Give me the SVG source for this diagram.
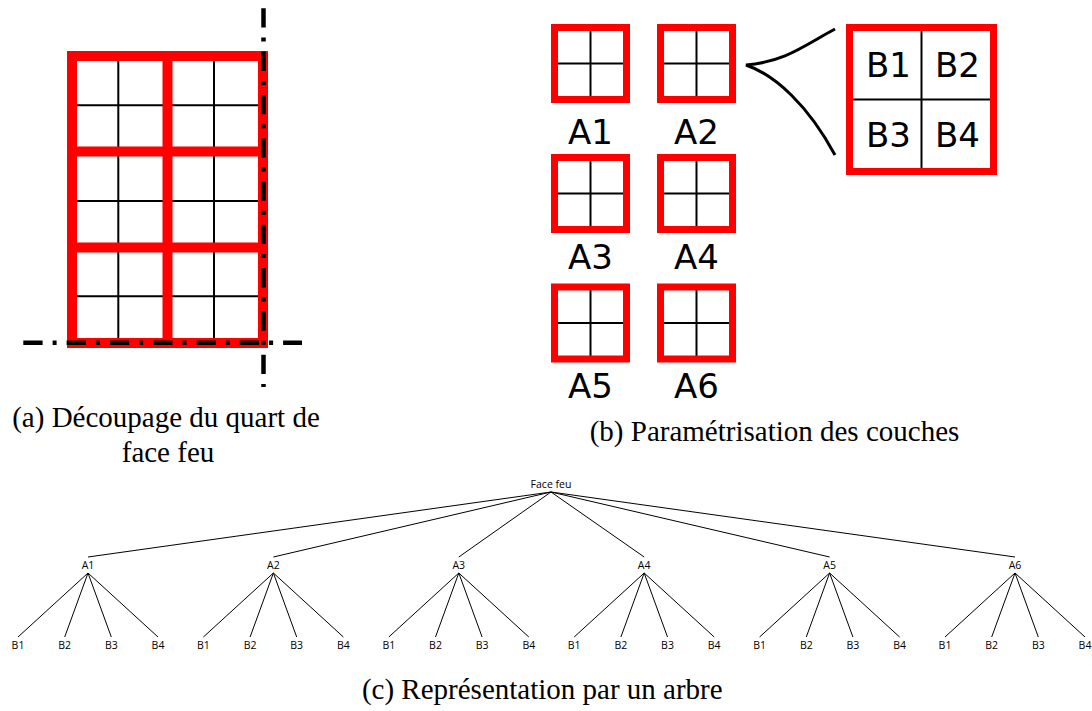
<svg xmlns="http://www.w3.org/2000/svg" width="1092" height="711" viewBox="0 0 1092 711">
<style>
.red{fill:none;stroke:#ff0000}
.thin{fill:none;stroke:#000;stroke-width:2}
.dd{fill:none;stroke:#000;stroke-width:4.5;stroke-dasharray:19.3 10 4 10}
.lab{font-family:"DejaVu Sans",sans-serif;font-size:34px;text-anchor:middle;fill:#000}
.cap{font-family:"Liberation Serif",serif;font-size:29px;text-anchor:middle;fill:#000}
.tn{font-family:"Open Sans","Noto Sans",sans-serif;font-size:10.5px;text-anchor:middle;fill:#000}
.edge{stroke:#000;stroke-width:1;fill:none}
</style>
<rect width="1092" height="711" fill="#fff"/>

<!-- (a) -->
<g id="part-a">
  <g class="thin">
    <line x1="118.3" y1="56" x2="118.3" y2="343"/>
    <line x1="214" y1="56" x2="214" y2="343"/>
    <line x1="72" y1="105.3" x2="263" y2="105.3"/>
    <line x1="72" y1="201" x2="263" y2="201"/>
    <line x1="72" y1="296.3" x2="263" y2="296.3"/>
  </g>
  <g class="red" stroke-width="10">
    <rect x="72" y="56" width="191" height="287"/>
    <line x1="167.5" y1="56" x2="167.5" y2="343"/>
    <line x1="72" y1="151.5" x2="263" y2="151.5"/>
    <line x1="72" y1="247.5" x2="263" y2="247.5"/>
  </g>
  <line class="dd" x1="263.5" y1="8.3" x2="263.5" y2="387"/>
  <line class="dd" x1="23.3" y1="342.7" x2="302" y2="342.7"/>
  <text class="cap" x="166" y="427">(a) Découpage du quart de</text>
  <text class="cap" x="168" y="462">face feu</text>
</g>

<!-- (b) -->
<g id="part-b">
  <g id="boxA1">
    <line class="thin" x1="590.5" y1="27.5" x2="590.5" y2="99.5"/><line class="thin" x1="554.5" y1="63.5" x2="626.5" y2="63.5"/>
    <rect class="red" stroke-width="7" x="554.5" y="27.5" width="72" height="72"/>
    <text class="lab" x="590.5" y="144">A1</text>
  </g>
  <g id="boxA2">
    <line class="thin" x1="696.5" y1="27.5" x2="696.5" y2="99.5"/><line class="thin" x1="660.5" y1="63.5" x2="732.5" y2="63.5"/>
    <rect class="red" stroke-width="7" x="660.5" y="27.5" width="72" height="72"/>
    <text class="lab" x="696.5" y="144">A2</text>
  </g>
  <g id="boxA3">
    <line class="thin" x1="590.5" y1="157.5" x2="590.5" y2="229.5"/><line class="thin" x1="554.5" y1="193.5" x2="626.5" y2="193.5"/>
    <rect class="red" stroke-width="7" x="554.5" y="157.5" width="72" height="72"/>
    <text class="lab" x="590.5" y="269">A3</text>
  </g>
  <g id="boxA4">
    <line class="thin" x1="696.5" y1="157.5" x2="696.5" y2="229.5"/><line class="thin" x1="660.5" y1="193.5" x2="732.5" y2="193.5"/>
    <rect class="red" stroke-width="7" x="660.5" y="157.5" width="72" height="72"/>
    <text class="lab" x="696.5" y="269">A4</text>
  </g>
  <g id="boxA5">
    <line class="thin" x1="590.5" y1="287" x2="590.5" y2="359"/><line class="thin" x1="554.5" y1="323" x2="626.5" y2="323"/>
    <rect class="red" stroke-width="7" x="554.5" y="287" width="72" height="72"/>
    <text class="lab" x="590.5" y="398">A5</text>
  </g>
  <g id="boxA6">
    <line class="thin" x1="696.5" y1="287" x2="696.5" y2="359"/><line class="thin" x1="660.5" y1="323" x2="732.5" y2="323"/>
    <rect class="red" stroke-width="7" x="660.5" y="287" width="72" height="72"/>
    <text class="lab" x="696.5" y="398">A6</text>
  </g>
  <g id="brace">
    <path d="M835,29 C805,45 785,62 746,65 C775,75 808,105 835,155" fill="none" stroke="#000" stroke-width="3"/>
  </g>
  <g id="boxB">
    <line class="thin" x1="921.5" y1="27.5" x2="921.5" y2="171.5"/><line class="thin" x1="849.5" y1="99.5" x2="993.5" y2="99.5"/>
    <rect class="red" stroke-width="7" x="849.5" y="27.5" width="144" height="144"/>
    <text class="lab" x="888.5" y="77">B1</text>
    <text class="lab" x="957.5" y="77">B2</text>
    <text class="lab" x="888.5" y="147">B3</text>
    <text class="lab" x="957.5" y="147">B4</text>
  </g>
  <text class="cap" x="774.5" y="441">(b) Paramétrisation des couches</text>
</g>

<!-- (c) tree -->
<g id="connectors" class="edge">
  <path d="M551,492 L88,557 M551,492 L273.4,557 M551,492 L458.8,557 M551,492 L644.2,557 M551,492 L829.6,557 M551,492 L1015,557"/>
  <path d="M88,573 L18,637 M88,573 L64.7,637 M88,573 L111.3,637 M88,573 L158,637"/>
  <path d="M273.4,573 L203.4,637 M273.4,573 L250.1,637 M273.4,573 L296.7,637 M273.4,573 L343.4,637"/>
  <path d="M458.8,573 L388.8,637 M458.8,573 L435.5,637 M458.8,573 L482.1,637 M458.8,573 L528.8,637"/>
  <path d="M644.2,573 L574.2,637 M644.2,573 L620.9,637 M644.2,573 L667.5,637 M644.2,573 L714.2,637"/>
  <path d="M829.6,573 L759.6,637 M829.6,573 L806.3,637 M829.6,573 L852.9,637 M829.6,573 L899.6,637"/>
  <path d="M1015,573 L945,637 M1015,573 L991.7,637 M1015,573 L1038.3,637 M1015,573 L1085,637"/>
</g>
<g id="root"><text class="tn" x="551" y="488">Face feu</text></g>
<g id="tA1"><text class="tn" x="88" y="569">A1</text></g>
<g id="tA2"><text class="tn" x="273.4" y="569">A2</text></g>
<g id="tA3"><text class="tn" x="458.8" y="569">A3</text></g>
<g id="tA4"><text class="tn" x="644.2" y="569">A4</text></g>
<g id="tA5"><text class="tn" x="829.6" y="569">A5</text></g>
<g id="tA6"><text class="tn" x="1015" y="569">A6</text></g>
<g id="leaves" class="tn">
  <text x="18" y="649">B1</text><text x="64.7" y="649">B2</text><text x="111.3" y="649">B3</text><text x="158" y="649">B4</text>
  <text x="203.4" y="649">B1</text><text x="250.1" y="649">B2</text><text x="296.7" y="649">B3</text><text x="343.4" y="649">B4</text>
  <text x="388.8" y="649">B1</text><text x="435.5" y="649">B2</text><text x="482.1" y="649">B3</text><text x="528.8" y="649">B4</text>
  <text x="574.2" y="649">B1</text><text x="620.9" y="649">B2</text><text x="667.5" y="649">B3</text><text x="714.2" y="649">B4</text>
  <text x="759.6" y="649">B1</text><text x="806.3" y="649">B2</text><text x="852.9" y="649">B3</text><text x="899.6" y="649">B4</text>
  <text x="945" y="649">B1</text><text x="991.7" y="649">B2</text><text x="1038.3" y="649">B3</text><text x="1085" y="649">B4</text>
</g>
<text class="cap" x="542.3" y="699">(c) Représentation par un arbre</text>
</svg>
